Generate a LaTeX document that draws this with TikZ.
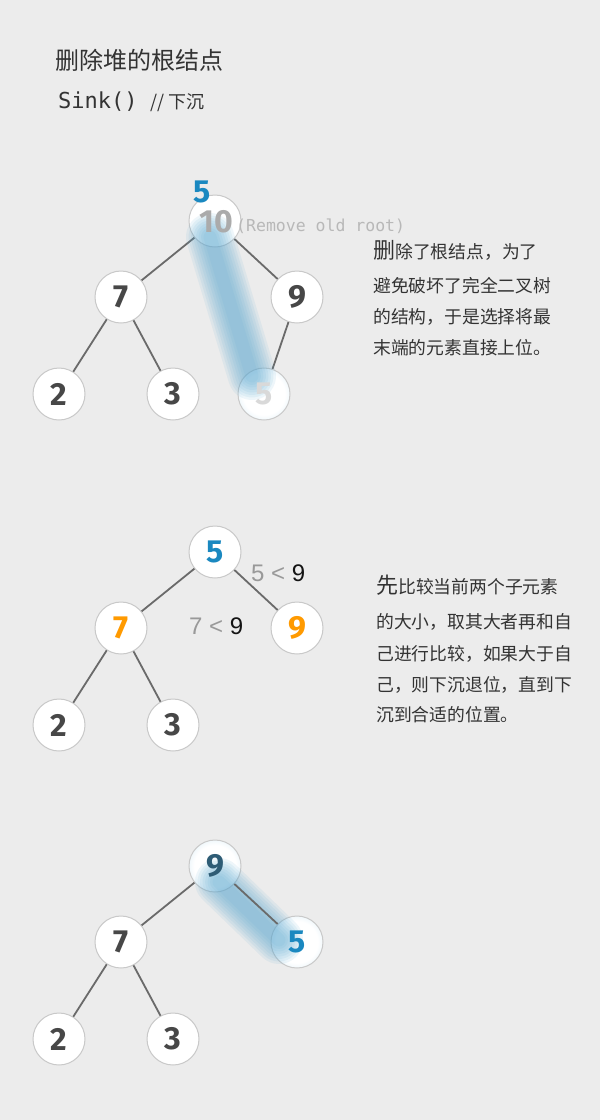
\documentclass[tikz,border=0pt]{standalone}
\usepackage{fontspec}
\newfontfamily\cjk{Noto Sans CJK SC}
\newfontfamily\dg{Fira Sans}
\newfontfamily\monof{DejaVu Sans Mono}
\newfontfamily\arialf{Liberation Sans}
\usetikzlibrary{calc}
\definecolor{bgc}{HTML}{ECECEC}
\definecolor{edgec}{HTML}{6A6A6A}
\definecolor{ringc}{HTML}{C9C9C9}
\definecolor{digc}{HTML}{474747}
\definecolor{bluec}{HTML}{1A88C0}
\definecolor{orangec}{HTML}{FF9A00}
\definecolor{glowc}{HTML}{5AA8D2}
\definecolor{rimc}{HTML}{AAD5EA}
\definecolor{txtc}{HTML}{333333}
\definecolor{teal}{HTML}{2E5C75}
\pgfdeclareradialshading{rimglow}{\pgfpoint{0bp}{0bp}}{color(0bp)=(white); color(20bp)=(white); color(50bp)=(rimc); color(60bp)=(rimc)}
\tikzset{
  nd/.style={circle, minimum size=52pt, inner sep=0pt, fill=white, draw=ringc, line width=1pt},
  glownd/.style={circle, minimum size=52pt, inner sep=0pt, shading=rimglow, draw=ringc, line width=1pt},
  dig/.style={font=\dg\bfseries\fontsize{32}{32}\selectfont, text=digc, inner sep=0pt},
  ed/.style={draw=edgec, line width=1.8pt},
  para/.style={font=\cjk\fontsize{17.8}{20}\selectfont, text=txtc, anchor=west, inner sep=0pt},
  cmp/.style={font=\arialf\fontsize{24}{24}\selectfont, anchor=base west, inner sep=0pt},
}
\newcommand\glowline[2]{%
  \foreach \w in {48,43,38,33,28,23,18,13}{%
    \draw[line width=\w pt, glowc, opacity=0.1, line cap=round] #1 -- #2;}%
}
\begin{document}
\begin{tikzpicture}[x=1pt,y=-1pt]
\fill[bgc] (0,0) rectangle (600,1120);
\useasboundingbox (0,0) rectangle (600,1120);

% heading
\node[font=\cjk\fontsize{24}{26}\selectfont, text=txtc, anchor=west, inner sep=0pt] (title) at (55,60) {删除堆的根结点};
\node[font=\monof\fontsize{22}{24}\selectfont, text=txtc, anchor=base west, inner sep=0pt] (sink) at (58,108) {Sink()};
\node[font=\cjk\fontsize{18}{20}\selectfont, text=txtc, anchor=base west, inner sep=0pt] (sinkc) at (150,108) {// 下沉};

% ---------- tree 1 ----------
\node[nd] (a1) at (215,221) {};
\node[nd] (a2) at (121,297) {};
\node[nd] (a3) at (297,297) {};
\node[nd] (a4) at (59,394) {};
\node[nd] (a5) at (173,394) {};
\node[glownd] (a6) at (264,394) {};
\draw[ed] (a1) -- (a2);
\draw[ed] (a1) -- (a3);
\draw[ed] (a2) -- (a4);
\draw[ed] (a2) -- (a5);
\draw[ed] (a3) -- (a6);
\coordinate (g1s) at ($(a1)+(-5,16)$);
\coordinate (g1e) at ($(a6)+(-12,-18)$);
\glowline{(g1s)}{(g1e)}
\node[dig, text=black!33] (a1l) at (216,222) {10};
\node[dig, text=bluec] (a1n) at (202,192) {5};
\node[dig] (a2l) at (a2) {7};
\node[dig] (a3l) at (a3) {9};
\node[dig] (a4l) at (a4) {2};
\node[dig] (a5l) at (a5) {3};
\node[dig, text=black!15] (a6l) at (a6) {5};
\node[font=\monof\fontsize{16.5}{18}\selectfont, text=black!28, anchor=west, inner sep=0pt] (rm) at (236,226) {(Remove old root)};

\node[para] (p1a) at (373,250) {{\fontsize{22}{22}\selectfont 删}除了根结点，为了};
\node[para] (p1b) at (373,286) {避免破坏了完全二叉树};
\node[para] (p1c) at (373,317) {的结构，于是选择将最};
\node[para] (p1d) at (373,348) {末端的元素直接上位。};

% ---------- tree 2 ----------
\node[nd] (b1) at (215,552) {};
\node[nd] (b2) at (121,628) {};
\node[nd] (b3) at (297,628) {};
\node[nd] (b4) at (59,725) {};
\node[nd] (b5) at (173,725) {};
\draw[ed] (b1) -- (b2);
\draw[ed] (b1) -- (b3);
\draw[ed] (b2) -- (b4);
\draw[ed] (b2) -- (b5);
\node[dig, text=bluec] (b1l) at (b1) {5};
\node[dig, text=orangec] (b2l) at (b2) {7};
\node[dig, text=orangec] (b3l) at (b3) {9};
\node[dig] (b4l) at (b4) {2};
\node[dig] (b5l) at (b5) {3};
\node[cmp] (c1) at (251,581) {\textcolor{black!40}{5 <} \textcolor{black!92}{9}};
\node[cmp] (c2) at (189,634) {\textcolor{black!40}{7 <} \textcolor{black!92}{9}};

\node[para] (p2a) at (376,585) {{\fontsize{22}{22}\selectfont 先}比较当前两个子元素};
\node[para] (p2b) at (376,622) {的大小，取其大者再和自};
\node[para] (p2c) at (376,654) {己进行比较，如果大于自};
\node[para] (p2d) at (376,685) {己，则下沉退位，直到下};
\node[para] (p2e) at (376,715) {沉到合适的位置。};

% ---------- tree 3 ----------
\node[glownd] (d1) at (215,866) {};
\node[nd] (d2) at (121,942) {};
\node[glownd] (d3) at (297,942) {};
\node[nd] (d4) at (59,1039) {};
\node[nd] (d5) at (173,1039) {};
\draw[ed] (d1) -- (d2);
\draw[ed] (d2) -- (d4);
\draw[ed] (d2) -- (d5);
\coordinate (g3s) at ($(d1)+(4,16)$);
\coordinate (g3e) at ($(d3)+(-18,-2)$);
\glowline{(g3s)}{(g3e)}
\draw[ed] (d1) -- (d3);
\node[dig, text=teal] (d1l) at (d1) {9};
\node[dig] (d2l) at (d2) {7};
\node[dig, text=bluec] (d3l) at (d3) {5};
\node[dig] (d4l) at (d4) {2};
\node[dig] (d5l) at (d5) {3};
\end{tikzpicture}
\end{document}
